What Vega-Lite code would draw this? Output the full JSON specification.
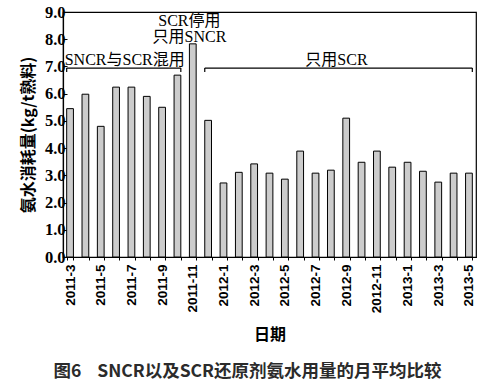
{
  "$schema": "https://vega.github.io/schema/vega-lite/v6.json",
  "autosize": "none",
  "width": 413,
  "height": 245,
  "padding": {"left": 63, "top": 12, "right": 6, "bottom": 131},
  "background": "white",
  "config": {
    "view": {"stroke": "black", "strokeWidth": 1.2},
    "axisX": {
      "titleFont": "'Noto Sans CJK SC'", "titleFontSize": 16, "titleFontWeight": "bold", "titleColor": "black", "titlePadding": 14,
      "labelAngle": -90, "labelFont": "'Liberation Sans', sans-serif", "labelFontSize": 13.5, "labelFontWeight": "bold", "labelColor": "black", "labelPadding": 4, "labelOverlap": false,
      "labelExpr": "indexof(['2011-3','2011-5','2011-7','2011-9','2011-11','2012-1','2012-3','2012-5','2012-7','2012-9','2012-11','2013-1','2013-3','2013-5'], datum.value) >= 0 ? datum.value : ''",
      "ticks": true, "tickSize": 3, "tickColor": "black", "domainColor": "black", "domainWidth": 1.2, "tickBand": "extent", "grid": false
    },
    "axisY": {
      "titleFont": "'Noto Sans CJK SC'", "titleFontSize": 16, "titleFontWeight": "bold", "titleColor": "black", "titlePadding": 8,
      "tickCount": 9, "format": ".1f", "labelOverlap": false,
      "labelFont": "'Liberation Serif', serif", "labelFontSize": 16.5, "labelFontWeight": "bold", "labelColor": "black", "labelPadding": 2,
      "ticks": true, "tickSize": -4, "tickColor": "black", "domainColor": "black", "domainWidth": 1.2, "grid": false
    }
  },
  "title": {"text": "图6\u00a0\u00a0\u00a0\u00a0SNCR以及SCR还原剂氨水用量的月平均比较", "orient": "bottom", "anchor": "middle", "font": "'Noto Sans CJK SC'", "fontSize": 17.5, "fontWeight": "bold", "color": "#2b2b2b", "offset": 20, "dx": -22},
  "datasets": {
    "bars": [
      {"month": "2011-3", "value": 5.45},
      {"month": "2011-4", "value": 5.98},
      {"month": "2011-5", "value": 4.8},
      {"month": "2011-6", "value": 6.24},
      {"month": "2011-7", "value": 6.24},
      {"month": "2011-8", "value": 5.9},
      {"month": "2011-9", "value": 5.5},
      {"month": "2011-10", "value": 6.68},
      {"month": "2011-11", "value": 7.83},
      {"month": "2011-12", "value": 5.02},
      {"month": "2012-1", "value": 2.72},
      {"month": "2012-2", "value": 3.11},
      {"month": "2012-3", "value": 3.42},
      {"month": "2012-4", "value": 3.08},
      {"month": "2012-5", "value": 2.86},
      {"month": "2012-6", "value": 3.89},
      {"month": "2012-7", "value": 3.08},
      {"month": "2012-8", "value": 3.19},
      {"month": "2012-9", "value": 5.1},
      {"month": "2012-10", "value": 3.48},
      {"month": "2012-11", "value": 3.89},
      {"month": "2012-12", "value": 3.3},
      {"month": "2013-1", "value": 3.48},
      {"month": "2013-2", "value": 3.15},
      {"month": "2013-3", "value": 2.75},
      {"month": "2013-4", "value": 3.08},
      {"month": "2013-5", "value": 3.08}
    ],
    "brackets": [
      {"start": "2011-3", "end": "2011-10", "y": 6.94, "ytick": 6.8},
      {"start": "2011-12", "end": "2013-5", "y": 6.94, "ytick": 6.8}
    ]
  },
  "layer": [
    {
      "data": {"name": "bars"},
      "mark": {"type": "bar", "fill": "#cccccc", "stroke": "black", "strokeWidth": 1},
      "encoding": {
        "x": {
          "field": "month", "type": "ordinal", "sort": null,
          "scale": {"domain": ["2011-3","2011-4","2011-5","2011-6","2011-7","2011-8","2011-9","2011-10","2011-11","2011-12","2012-1","2012-2","2012-3","2012-4","2012-5","2012-6","2012-7","2012-8","2012-9","2012-10","2012-11","2012-12","2013-1","2013-2","2013-3","2013-4","2013-5"], "paddingInner": 0.56, "paddingOuter": 0.24},
          "axis": {"title": "日期"}
        },
        "y": {
          "field": "value", "type": "quantitative",
          "scale": {"domain": [0, 9], "nice": false},
          "axis": {"title": "氨水消耗量(kg/t熟料)"}
        }
      }
    },
    {
      "data": {"name": "brackets"},
      "mark": {"type": "rule", "stroke": "black", "strokeWidth": 1.2},
      "encoding": {
        "x": {"field": "start", "type": "ordinal", "bandPosition": 0, "title": "日期"},
        "x2": {"field": "end", "bandPosition": 1},
        "y": {"field": "y", "type": "quantitative", "title": "氨水消耗量(kg/t熟料)"}
      }
    },
    {
      "data": {"name": "brackets"},
      "mark": {"type": "rule", "stroke": "black", "strokeWidth": 1.2},
      "encoding": {
        "x": {"field": "start", "type": "ordinal", "bandPosition": 0, "title": "日期"},
        "y": {"field": "y", "type": "quantitative", "title": "氨水消耗量(kg/t熟料)"},
        "y2": {"field": "ytick"}
      }
    },
    {
      "data": {"name": "brackets"},
      "mark": {"type": "rule", "stroke": "black", "strokeWidth": 1.2},
      "encoding": {
        "x": {"field": "end", "type": "ordinal", "bandPosition": 1, "title": "日期"},
        "y": {"field": "y", "type": "quantitative", "title": "氨水消耗量(kg/t熟料)"},
        "y2": {"field": "ytick"}
      }
    },
    {
      "data": {"values": [
        {"month": "2011-6", "y": 7.06, "label": "SNCR与SCR混用", "dx": 12},
        {"month": "2012-8", "y": 7.06, "label": "只用SCR", "dx": 9},
        {"month": "2011-11", "y": 7.88, "label": "只用SNCR", "dx": 0},
        {"month": "2011-11", "y": 8.5, "label": "SCR停用", "dx": 0}
      ]},
      "mark": {"type": "text", "font": "'Liberation Serif', 'Noto Sans CJK SC', serif", "fontSize": 16, "color": "black", "baseline": "alphabetic", "align": "center"},
      "encoding": {
        "x": {"field": "month", "type": "ordinal", "title": "日期"},
        "xOffset": {"field": "dx", "type": "quantitative", "scale": null},
        "y": {"field": "y", "type": "quantitative", "title": "氨水消耗量(kg/t熟料)"},
        "text": {"field": "label"}
      }
    }
  ]
}
